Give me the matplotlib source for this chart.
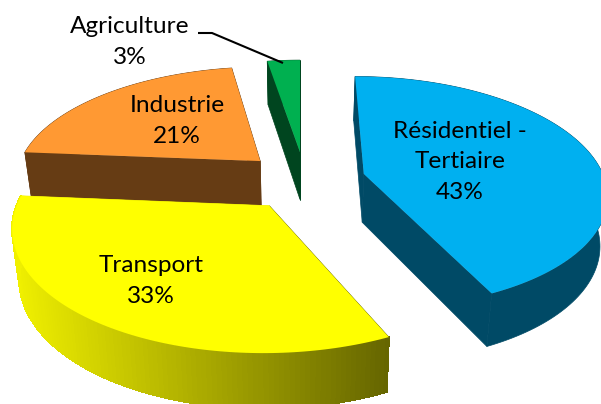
import numpy as np
import matplotlib
matplotlib.use('Agg')
import matplotlib.pyplot as plt
from matplotlib.colors import to_rgb

categories = ['Résidentiel -\nTertiaire', 'Transport', 'Industrie', 'Agriculture']
values = [43.1, 33.2, 21.1, 2.6]

top_colours = ['#00B0F0', '#FFFF00', '#FF9933', '#00B050']
side_left = ['#004A66', '#F0F000', '#663C14', '#00451F']
side_right = ['#004A66', '#666600', '#663C14', '#00451F']

# how far each slice is pulled out, in pie plane units
explode_u = [63, -29, -40, 0]
explode_v = [0.08, 0.35, -0.036, -0.12]
radius = [236, 239, 241, 236]
label_pos = [(460, 162), (151, 281), (177, 121), (130, 42)]

cx, cy = 300, 165
Ry = 110
k = 0.156
D = 48

def project(u, v, z=0):
    s = 1 / (1 - k * v)
    x = cx + u * s * (1 - 0.025 * z)
    y = cy + v * Ry * s + z * D * s ** 0.6
    return x, y

def slice_points(a0, a1, du, dv, R, z=0):
    t = np.radians(np.linspace(a0, a1, 120))
    return project(du + R * np.sin(t), dv - np.cos(t), z)

fig = plt.figure(figsize=(6.01, 4.04), dpi=100)
ax = fig.add_axes([0, 0, 1, 1])
ax.set_xlim(0, 601)
ax.set_ylim(404, 0)
ax.axis('off')

edges = np.cumsum([0] + values) / sum(values) * 360
# back slices first so the front ones sit on top
draw_order = [3, 2, 1, 0]
for n, i in enumerate(draw_order):
    base = 10 + n * 5
    a0, a1 = edges[i], edges[i + 1]
    du, dv, R = explode_u[i], explode_v[i], radius[i]
    ax0, ay0 = project(du, dv)
    bx0, by0 = project(du, dv, 1)

    # the two cut faces
    for a in (a0, a1):
        t = np.radians(a)
        ex, ey = project(du + R * np.sin(t), dv - np.cos(t))
        fx, fy = project(du + R * np.sin(t), dv - np.cos(t), 1)
        ax.fill([ax0, ex, fx, bx0], [ay0, ey, fy, by0], color=side_left[i] if a == a1 else side_right[i],
                lw=0.5, zorder=base)

    # outer wall, flat colour underneath then strips for the shading
    tx, ty = slice_points(a0, a1, du, dv, R)
    lx, ly = slice_points(a0, a1, du, dv, R, 1)
    c_left, c_right = np.array(to_rgb(side_left[i])), np.array(to_rgb(side_right[i]))
    ax.fill(np.r_[tx, lx[::-1]], np.r_[ty, ly[::-1]], color=tuple((c_left + c_right) / 2), lw=0.5, zorder=base + 1)
    if side_left[i] != side_right[i]:
        x_lo, x_hi = tx.min(), tx.max()
        for j in range(len(tx) - 1):
            f = (tx[j] - x_lo) / (x_hi - x_lo)
            ax.fill([tx[j], tx[j + 1], lx[j + 1], lx[j]], [ty[j], ty[j + 1], ly[j + 1], ly[j]],
                    color=tuple(c_left + (c_right - c_left) * f), lw=0.8, antialiased=False, zorder=base + 1)

    # top face
    ax.fill(np.r_[ax0, tx], np.r_[ay0, ty], color=top_colours[i], lw=0, zorder=base + 2)

# leader line for the small slice
ax.plot([198, 212, 283], [33, 33, 63], color='black', lw=1.5, zorder=50, solid_capstyle='butt')

for name, val, pos in zip(categories, values, label_pos):
    ax.text(pos[0], pos[1], f'{name}\n{round(val)}%', ha='center', va='center', family='Lato',
            fontsize=17.6, linespacing=1.55, color='black', zorder=60)

fig.savefig('out.png', dpi=100)
plt.close(fig)
